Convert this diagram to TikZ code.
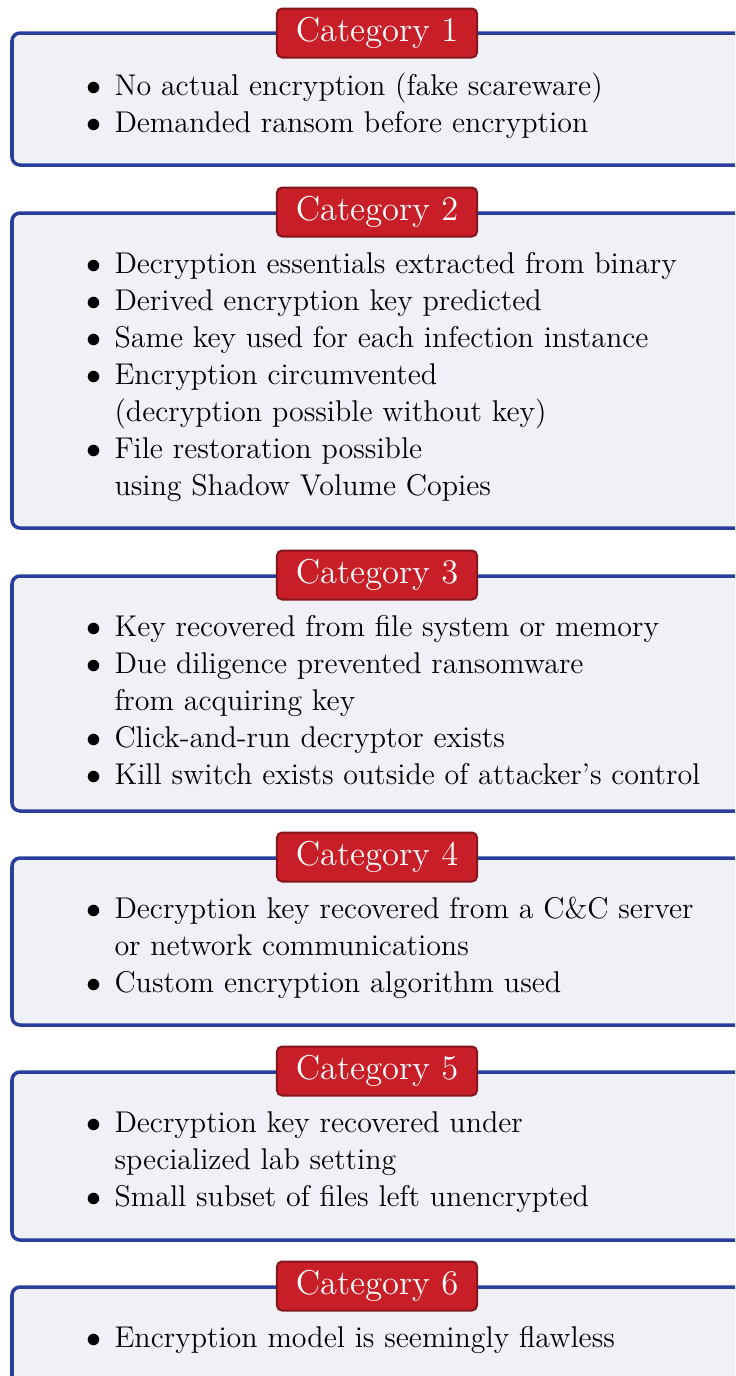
\documentclass[tikz,border=0pt]{standalone}
\usepackage{fontspec}
\definecolor{boxblue}{RGB}{42,62,156}
\definecolor{boxfill}{RGB}{240,240,247}
\definecolor{titlered}{RGB}{200,30,40}
\definecolor{titleedge}{RGB}{130,22,28}
\newcommand{\bul}{\leavevmode\llap{$\bullet$\hspace{5.4pt}}}

\begin{document}
\begin{tikzpicture}[x=0.4pt, y=-0.4pt,
    catbox/.style = {draw=boxblue, line width=1.4pt, fill=boxfill, rounded corners=3.2pt},
    cattitle/.style = {draw=titleedge, line width=0.8pt, fill=titlered, text=white, rounded corners=2pt,
                       minimum width=80pt, minimum height=19.6pt, inner sep=0pt, font=\fontsize{13.8}{15}\selectfont},
    items/.style = {anchor=base west, inner sep=0pt, font=\fontsize{12}{14.8}\selectfont} ]
    \useasboundingbox (0,0) rectangle (735,1376);
    \clip (0,0) rectangle (735,1376);

    % frames
    \foreach \t/\b in {33/165, 213/528, 576/811, 858/1025, 1072/1240, 1287/1420}
        \draw[catbox] (12,\t) rectangle (770,\b);

    % titles
    \foreach \n/\t in {1/33, 2/212, 3/575, 4/857, 5/1071, 6/1286}
        \node[cattitle] (cat\n) at (377,\t) {Category \n};

    % lists
    \node[items] (items1) at (114,95.5) {\parbox[t]{300pt}{%
        \bul No actual encryption (fake scareware)\\
        \bul Demanded ransom before encryption}};
    \node[items] (items2) at (114,273.5) {\parbox[t]{300pt}{%
        \bul Decryption essentials extracted from binary\\
        \bul Derived encryption key predicted\\
        \bul Same key used for each infection instance\\
        \bul Encryption circumvented\\
        (decryption possible without key)\\
        \bul File restoration possible\\
        using Shadow Volume Copies}};
    \node[items] (items3) at (114,636.5) {\parbox[t]{300pt}{%
        \bul Key recovered from file system or memory\\
        \bul Due diligence prevented ransomware\\
        from acquiring key\\
        \bul Click-and-run decryptor exists\\
        \bul Kill switch exists outside of attacker's control}};
    \node[items] (items4) at (114,918.5) {\parbox[t]{300pt}{%
        \bul Decryption key recovered from a C\&C server\\
        or network communications\\
        \bul Custom encryption algorithm used}};
    \node[items] (items5) at (114,1132.5) {\parbox[t]{300pt}{%
        \bul Decryption key recovered under\\
        specialized lab setting\\
        \bul Small subset of files left unencrypted}};
    \node[items] (items6) at (114,1347.5) {\parbox[t]{300pt}{%
        \bul Encryption model is seemingly flawless}};
\end{tikzpicture}
\end{document}
